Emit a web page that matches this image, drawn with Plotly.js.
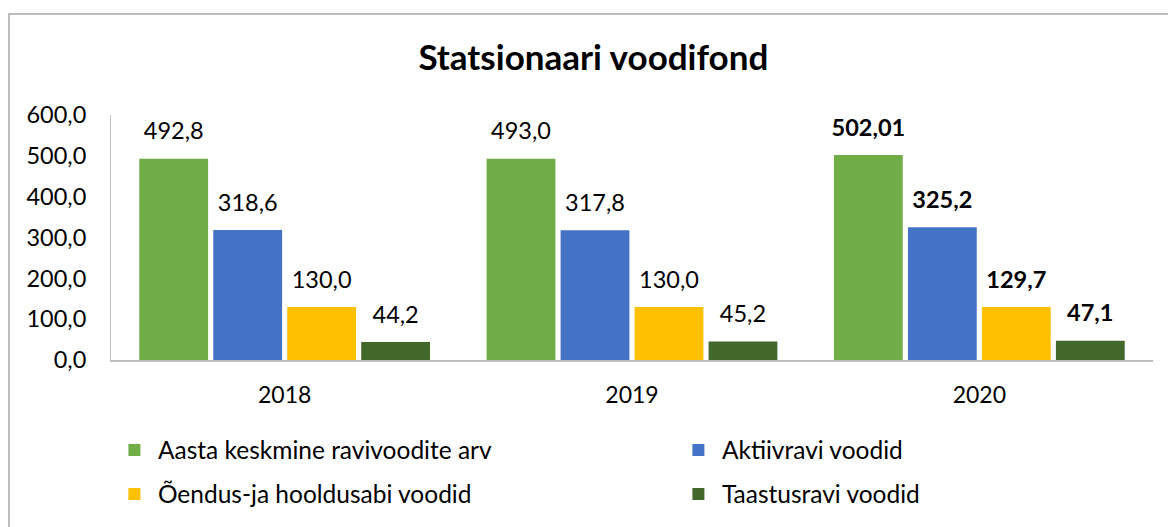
<!DOCTYPE html>
<html>
<head>
<meta charset="utf-8">
<script src="https://cdn.plot.ly/plotly-3.0.1.min.js"></script>
<style>
html,body{margin:0;padding:0;background:#fff;}
#chart{width:1168px;height:527px;}
</style>
</head>
<body>
<div id="chart"></div>
<script>
const years = ["2018", "2019", "2020"];
const seriesNames = ["Aasta keskmine ravivoodite arv", "Aktiivravi voodid", "Õendus-ja hooldusabi voodid", "Taastusravi voodid"];
const aastaKeskmine = [492.8, 493.0, 502.01];
const aktiivravi = [318.6, 317.8, 325.2];
const oendus = [130.0, 130.0, 129.7];
const taastusravi = [44.2, 45.2, 47.1];
const labelsAasta = ["492,8", "493,0", "<b>502,01</b>"];
const labelsAktiiv = ["318,6", "317,8", "<b>325,2</b>"];
const labelsOendus = ["130,0", "130,0", "<b>129,7</b>"];
const labelsTaastus = ["44,2", "45,2", "<b>47,1</b>"];
const colors = ["#70AD47", "#4472C4", "#FFC000", "#43682B"];
const legendRow = ["legend", "legend", "legend2", "legend2"];

const values = [aastaKeskmine, aktiivravi, oendus, taastusravi];
const labels = [labelsAasta, labelsAktiiv, labelsOendus, labelsTaastus];
const FONT = "Lato, 'Open Sans', sans-serif";

const traces = [];
values.forEach((v, i) => {
  traces.push({
    type: "bar", x: years, y: v, name: seriesNames[i],
    marker: {color: colors[i], line: {width: 0}},
    legend: legendRow[i],
    hoverinfo: "skip"
  });
});
values.forEach((v, i) => {
  traces.push({
    type: "scatter", mode: "markers+text", x: years, y: v,
    text: labels[i], textposition: "top center",
    textfont: {family: FONT, size: 23.5, color: "#000"},
    marker: {size: 20, opacity: 0},
    showlegend: false, hoverinfo: "skip", cliponaxis: false
  });
});

const legendBase = {
  orientation: "h", x: -0.0001, xanchor: "left", yanchor: "middle",
  entrywidth: 512, entrywidthmode: "pixels", itemwidth: 37, traceorder: "normal",
  font: {family: FONT, size: 24.5, color: "#000"}, bgcolor: "rgba(0,0,0,0)",
  itemclick: false, itemdoubleclick: false
};

const layout = {
  width: 1168, height: 527,
  margin: {l: 111, r: 15, t: 115, b: 167, autoexpand: false},
  paper_bgcolor: "#fff", plot_bgcolor: "#fff",
  separators: ",.",
  font: {family: FONT, size: 23.5, color: "#000"},
  title: {text: "<b>Statsionaari voodifond</b>", font: {family: FONT, size: 35, color: "#000"},
          x: 0.508, xref: "container", xanchor: "center", y: 0.89, yref: "container", yanchor: "middle"},
  barmode: "group", bargap: 0.148, bargroupgap: 0.07,
  scattermode: "group", scattergap: 0.148,
  showlegend: true,
  legend: Object.assign({}, legendBase, {y: (360 - 450) / 245}),
  legend2: Object.assign({}, legendBase, {y: (360 - 494) / 245}),
  xaxis: {type: "category", showline: true, linecolor: "#BFBFBF", linewidth: 1.5,
          ticks: "", showgrid: false, zeroline: false, tickfont: {family: FONT, size: 23},
          ticklabelstandoff: 14, fixedrange: true},
  yaxis: {range: [0, 600], dtick: 100, tick0: 0, tickformat: ".1f", showline: true, linecolor: "#BFBFBF", linewidth: 1,
          ticks: "", showgrid: false, zeroline: false, tickfont: {family: FONT, size: 23.5},
          ticklabelstandoff: 19, fixedrange: true},
  shapes: [{type: "rect", xref: "paper", yref: "paper",
            x0: (9 - 111) / 1042, x1: 1.3, y0: -1, y1: (360 - 14) / 245,
            line: {color: "#A6A6A6", width: 1.5}, fillcolor: "rgba(0,0,0,0)", layer: "below"}]
};

Plotly.newPlot("chart", traces, layout, {displayModeBar: false, staticPlot: true});
</script>
</body>
</html>
